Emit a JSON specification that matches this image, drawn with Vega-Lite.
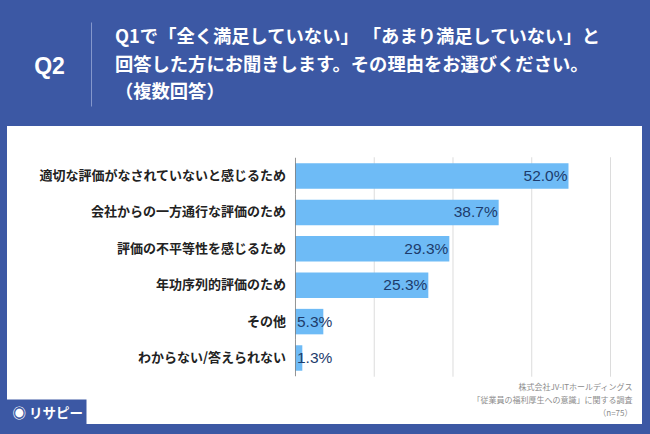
{
  "$schema": "https://vega.github.io/schema/vega-lite/v6.json",
  "width": 635,
  "height": 298,
  "autosize": {"type": "none"},
  "padding": {"left": 7, "top": 126, "right": 8, "bottom": 10},
  "background": "#3C58A4",
  "view": {"fill": "white", "stroke": null},
  "title": {
    "text": ["Q1で「全く満足していない」 「あまり満足していない」と", "回答した方にお聞きします。その理由をお選びください。", "（複数回答）"],
    "anchor": "start",
    "frame": "group",
    "dx": 108,
    "dy": 81,
    "offset": 0,
    "font": "Noto Sans CJK JP",
    "fontSize": 18.3,
    "fontWeight": "bold",
    "color": "white",
    "lineHeight": 27.5
  },
  "datasets": {
    "main": [
      {"cat": "適切な評価がなされていないと感じるため", "value": 0.52},
      {"cat": "会社からの一方通行な評価のため", "value": 0.387},
      {"cat": "評価の不平等性を感じるため", "value": 0.293},
      {"cat": "年功序列的評価のため", "value": 0.253},
      {"cat": "その他", "value": 0.053},
      {"cat": "わからない/答えられない", "value": 0.013}
    ],
    "grid": [{"g": 0.15}, {"g": 0.3}, {"g": 0.45}, {"g": 0.6}]
  },
  "resolve": {"axis": {"x": "independent", "y": "independent"}},
  "layer": [
    {
      "data": {"name": "grid"},
      "mark": {"type": "rule", "color": "#DCDCDC", "strokeWidth": 1},
      "encoding": {
        "x": {"field": "g", "type": "quantitative", "axis": null, "scale": {"domain": [-0.5495, 0.66], "nice": false, "zero": false}},
        "y": {"datum": "適切な評価がなされていないと感じるため", "type": "nominal", "bandPosition": -0.235, "axis": null,
              "scale": {"domain": ["適切な評価がなされていないと感じるため", "会社からの一方通行な評価のため", "評価の不平等性を感じるため", "年功序列的評価のため", "その他", "わからない/答えられない"], "range": [31, 251], "paddingInner": 0.3, "paddingOuter": 0.172}},
        "y2": {"datum": "わからない/答えられない", "bandPosition": 1.235}
      }
    },
    {
      "data": {"name": "main"},
      "mark": {"type": "bar", "color": "#6EBBF6"},
      "encoding": {
        "x": {"field": "value", "type": "quantitative",
              "scale": {"domain": [-0.5495, 0.66], "nice": false, "zero": false},
              "axis": {"orient": "bottom", "values": [-0.479], "domain": false, "grid": false, "ticks": true,
                       "tickSize": -25, "tickWidth": 84, "tickColor": "#3C58A4", "tickCap": "butt",
                       "labelExpr": "'◉ リサピー'", "labelColor": "white", "labelFontSize": 13.5, "labelFont": "Noto Sans CJK JP",
                       "labelFontWeight": "bold", "labelAlign": "left", "labelOffset": -32, "labelBaseline": "middle", "labelPadding": 14,
                       "labelFlush": false, "labelBound": false,
                       "title": ["株式会社JV-ITホールディングス", "「従業員の福利厚生への意識」に関する調査", "（n=75）"],
                       "titleX": 625, "titleY": -35, "titleAlign": "right", "titleBaseline": "alphabetic",
                       "titleFont": "Noto Sans CJK JP", "titleFontSize": 8, "titleFontWeight": "normal", "titleColor": "#8C8C8C", "titleLineHeight": 13}},
        "y": {"field": "cat", "type": "nominal", "sort": null,
              "scale": {"domain": ["適切な評価がなされていないと感じるため", "会社からの一方通行な評価のため", "評価の不平等性を感じるため", "年功序列的評価のため", "その他", "わからない/答えられない"], "range": [31, 251], "paddingInner": 0.3, "paddingOuter": 0.172},
              "axis": {"orient": "left", "offset": -288.5, "domain": false, "ticks": false, "grid": false, "title": null,
                       "labelPadding": 10, "labelFontSize": 13, "labelFont": "Noto Sans CJK JP", "labelFontWeight": "bold",
                       "labelColor": "#222222", "labelLimit": 400}}
      }
    },
    {
      "data": {"name": "main"},
      "mark": {"type": "tick", "color": "#666666", "thickness": 1, "size": 36.5},
      "encoding": {
        "x": {"datum": 0, "type": "quantitative", "axis": null, "scale": {"domain": [-0.5495, 0.66], "nice": false, "zero": false}},
        "y": {"field": "cat", "type": "nominal", "sort": null, "axis": null}
      }
    },
    {
      "data": {"name": "main"},
      "transform": [{"filter": "datum.value >= 0.1"}],
      "mark": {"type": "text", "align": "right", "baseline": "middle", "dx": -1, "font": "Liberation Sans", "fontSize": 15.5, "color": "#1D3B6C"},
      "encoding": {
        "x": {"field": "value", "type": "quantitative",
              "scale": {"domain": [-0.5495, 0.66], "nice": false, "zero": false},
              "axis": {"orient": "top", "offset": 20, "values": [-0.3895], "domain": false, "grid": false, "labels": false,
                       "tickSize": 84, "tickColor": "#8497CC", "tickWidth": 1,
                       "title": "Q2", "titleX": 42, "titleY": -33, "titleAlign": "center", "titleBaseline": "alphabetic",
                       "titleFont": "Liberation Sans", "titleFontSize": 23, "titleFontWeight": "bold", "titleColor": "white"}},
        "y": {"field": "cat", "type": "nominal", "sort": null, "axis": null},
        "text": {"field": "value", "type": "quantitative", "format": ".1%"}
      }
    },
    {
      "data": {"name": "main"},
      "transform": [{"filter": "datum.value < 0.1"}],
      "mark": {"type": "text", "align": "left", "baseline": "middle", "dx": 1.5, "font": "Liberation Sans", "fontSize": 15.5, "color": "#1D3B6C"},
      "encoding": {
        "x": {"datum": 0, "type": "quantitative", "axis": null, "scale": {"domain": [-0.5495, 0.66], "nice": false, "zero": false}},
        "y": {"field": "cat", "type": "nominal", "sort": null, "axis": null},
        "text": {"field": "value", "type": "quantitative", "format": ".1%"}
      }
    }
  ]
}
